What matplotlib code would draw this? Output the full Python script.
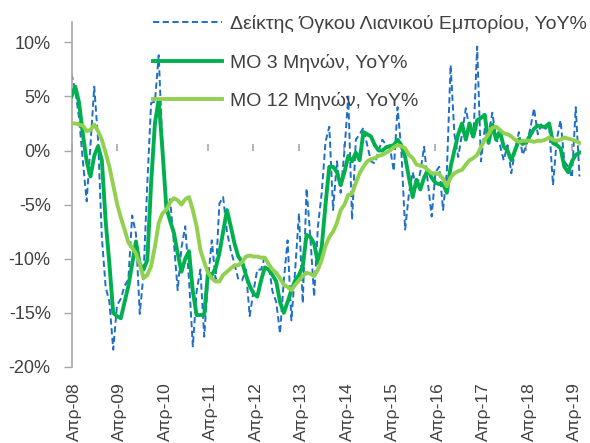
import numpy as np
import matplotlib
matplotlib.use("Agg")
import matplotlib.pyplot as plt
import matplotlib.transforms as mtransforms

plt.rcParams['font.family'] = ['Liberation Sans', 'DejaVu Sans']

tick_labels = ["Απρ-08", "Απρ-09", "Απρ-10", "Απρ-11", "Απρ-12", "Απρ-13",
               "Απρ-14", "Απρ-15", "Απρ-16", "Απρ-17", "Απρ-18", "Απρ-19"]

series_names = ["Δείκτης Όγκου Λιανικού Εμπορίου, YoY%",
                "ΜΟ 3 Μηνών, YoY%",
                "ΜΟ 12 Μηνών, YoY%"]

# Monthly YoY % (Apr-08 .. Jun-19)
raw = [7.1, 5.5, 3.0, -1.0, -4.7, 0.5, 5.9, 1.0, -8.0, -12.6,
       -14.0, -18.4, -14.3, -13.7, -12.5, -11.9, -6.0, -7.7, -15.1, -11.4,
       -3.0, 4.4, 4.5, 8.8, 0.3, -5.8, -4.5, -8.5, -12.9, -9.0,
       -7.0, -12.0, -18.1, -13.0, -11.0, -17.2, -12.0, -8.3, -11.9, -4.9,
       -4.3, -7.5, -9.2, -10.5, -11.9, -12.0, -11.0, -15.3, -13.0, -11.0,
       -11.0, -9.8, -10.5, -13.0, -14.0, -16.9, -12.0, -8.3, -15.7, -11.0,
       -5.8, -14.1, -3.5, -8.0, -13.5, -7.0, -3.9, 0.8, 2.2, -5.5,
       -1.0, -3.9, 0.0, 5.0, -6.4, 1.0, 1.5, 2.1, 0.5, -1.0,
       -1.2, 0.0, 1.0, 0.5, 0.3, -1.9, 4.0, 0.0, -7.3, -4.0,
       -2.0, -3.5, -2.0, 0.35, -3.0, -6.1, -2.0, -1.5, -5.5, -2.0,
       7.9, 1.5, -0.6, 1.5, 3.9, 2.0, 1.0, 9.6, -1.0, 2.0,
       1.5, 3.5, 1.0, 0.5, -0.9, 0.5, -2.1, 0.0, 1.7, -0.4,
       0.5, 2.0, 3.9, 1.5, 2.5, 2.0, 2.3, -3.2, 1.0, 2.8,
       -1.0, -1.5, -2.5, 4.0, -2.4]

ma3 = [5.0, 5.9, 4.4, 1.5, -1.0, -2.4, -0.5, 0.4, -0.9, -6.5,
       -10.5, -15.0, -15.3, -15.5, -14.0, -12.5, -10.5, -8.4, -10.5, -11.0,
       -10.1, -3.0, 2.5, 4.7, 0.0, -5.2, -6.5, -7.6, -9.5, -11.2,
       -10.0, -9.3, -13.0, -15.2, -15.2, -15.2, -11.3, -11.5, -10.9, -9.5,
       -7.5, -5.5, -7.0, -8.6, -9.8, -10.3, -11.5, -12.5, -13.2, -13.5,
       -12.0, -10.8, -11.0, -11.5, -12.1, -14.0, -15.0, -14.0, -12.9, -12.0,
       -11.5, -10.7, -7.8, -8.0, -8.6, -10.4, -8.9, -5.0, -1.5, -1.5,
       -2.0, -3.2, -2.0, -0.5, -1.0, -0.2, -0.9, 1.7, 1.5, 1.3,
       0.5, 0.0, 0.0, 0.3, 0.4, 0.5, 1.0, 0.5, -0.6, -2.5,
       -4.3, -2.7, -3.6, -2.5, -1.8, -2.5, -3.0, -3.1, -3.1, -3.9,
       -1.5, 0.0, 1.5, 2.5, 1.0, 2.5, 1.3, 2.8, 3.0, 3.3,
       0.7, 2.4, 1.0, 1.8, 0.35, 0.0, -0.9, 0.0, 1.0, 0.6,
       0.8, 1.4, 2.0, 2.3, 2.2, 2.2, 2.5, 0.7, 0.5, 0.2,
       -1.5, -2.0, -1.0, -0.4, -0.2]

ma12 = [2.5, 2.5, 2.4, 2.3, 1.8, 1.9, 2.4, 1.8, 1.0, -0.2,
        -1.5, -3.2, -4.9, -6.2, -7.3, -8.5, -9.0, -9.5, -10.5, -11.8,
        -11.5, -10.7, -8.9, -6.7, -5.8, -5.5, -4.8, -4.4, -4.6, -5.0,
        -4.5, -4.3, -5.5, -7.0, -9.2, -10.3, -11.3, -11.8, -12.1, -12.1,
        -11.5, -11.2, -10.9, -10.6, -10.6, -10.3, -9.8, -9.7, -9.8, -9.8,
        -9.9, -9.9, -10.5, -11.0, -11.3, -11.8, -12.4, -12.6, -12.9, -12.4,
        -12.0, -11.6, -11.3, -11.4, -11.6, -11.0, -10.1, -8.8, -8.0, -7.5,
        -6.7, -5.5, -5.0, -4.1, -4.0, -3.0, -2.1, -1.5, -1.0, -0.8,
        -0.7, -0.5, -0.4, -0.2, 0.0, 0.3, 0.5, 0.4, 0.2, -0.4,
        -0.7, -1.3, -1.4, -1.5, -1.8, -2.1, -2.1, -2.2, -2.6, -3.3,
        -2.5, -2.1, -1.9, -1.8, -1.3, -0.9, -0.7, -0.4, 0.3, 1.0,
        1.5, 2.1, 2.2, 1.9, 1.6, 1.5, 1.3, 1.0, 0.8, 0.9,
        0.9, 0.9, 0.8, 0.9, 0.9, 1.0, 1.2, 1.0, 0.9, 1.0,
        1.2, 1.1, 1.0, 0.9, 0.7]

y_ticks = [-20, -15, -10, -5, 0, 5, 10]
y_min, y_max = -20, 11.9

text_color = "#404040"
axis_color = "#A6A6A6"

fig = plt.figure(figsize=(5.9, 4.43), dpi=100)
ax = fig.add_axes([0.1212, 0.1716, 0.8636, 0.7794])

x = np.arange(len(raw))
ax.plot(x, raw, color="#1F6FC8", lw=1.4, ls=(0, (3.2, 1.8)), label=series_names[0], zorder=2)
ax.plot(x, ma3, color="#00B04F", lw=2.8, label=series_names[1], zorder=3)
ax.plot(x, ma12, color="#92D050", lw=2.8, label=series_names[2], zorder=4)

ax.set_xlim(0, 134.4)
ax.set_ylim(y_min, y_max)

ax.set_yticks(y_ticks)
ax.set_yticklabels([f"{v}%" for v in y_ticks])
ax.tick_params(axis='y', direction='out', length=6, width=1, color=axis_color,
               labelsize=13, labelcolor=text_color, pad=9)

xt = np.arange(0, 12 * len(tick_labels), 12)
ax.set_xticks(xt)
ax.set_xticklabels(tick_labels, rotation=90, va='top', ha='center')
ax.tick_params(axis='x', length=0, labelsize=12.5, labelcolor=text_color, pad=11)
offset = mtransforms.ScaledTranslation(2 / 72, 0, fig.dpi_scale_trans)
for lbl in ax.get_xticklabels():
    lbl.set_transform(lbl.get_transform() + offset)

for s in ['top', 'right', 'bottom']:
    ax.spines[s].set_visible(False)
ax.spines['left'].set_color(axis_color)
ax.spines['left'].set_linewidth(1.2)

# zero line with tick marks
loc = (0 - y_min) / (y_max - y_min)
sec = ax.secondary_xaxis(loc)
sec.set_xticks(xt)
sec.set_xticklabels([])
sec.tick_params(axis='x', direction='out', length=5, width=1.2, color=axis_color)
sec.spines['bottom'].set_color(axis_color)
sec.spines['bottom'].set_linewidth(1.6)
for s in ['top', 'left', 'right']:
    sec.spines[s].set_visible(False)

leg = ax.legend(loc='upper left', bbox_to_anchor=(153 / 590, 1 - 15 / 443),
                bbox_transform=fig.transFigure, frameon=False, fontsize=14,
                handlelength=3.55, handletextpad=0.42, labelspacing=1.06,
                borderpad=0, borderaxespad=0)
for t in leg.get_texts():
    t.set_color(text_color)

fig.savefig("out.png", dpi=100)
